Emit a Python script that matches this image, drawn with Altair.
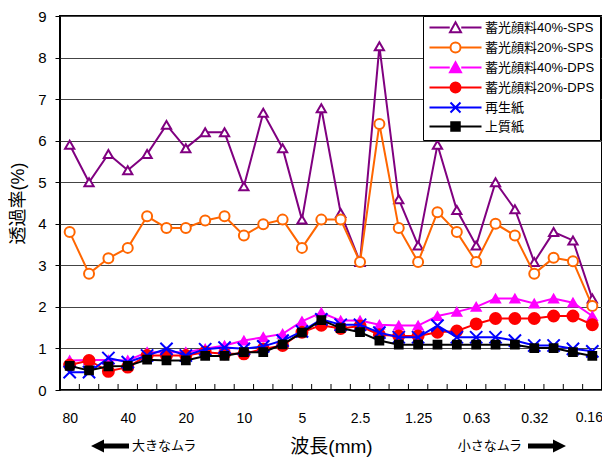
import json
import altair as alt
import pandas as pd

# ---------------- data ----------------
wavelength_labels = ["80", "40", "20", "10", "5", "2.5", "1.25", "0.63", "0.32", "0.16"]
series_names = ["蓄光顔料40%-SPS", "蓄光顔料20%-SPS", "蓄光顔料40%-DPS",
                "蓄光顔料20%-DPS", "再生紙", "上質紙"]

pig40_sps = [5.9, 5.0, 5.68, 5.29, 5.68, 6.38, 5.82, 6.2, 6.2, 4.9, 6.67, 5.82, 4.1, 6.78,
             4.26, 3.08, 8.27, 4.59, 3.48, 5.9, 4.33, 3.48, 5.0, 4.35, 3.08, 3.8, 3.6, 2.2]
pig20_sps = [3.8, 2.8, 3.17, 3.42, 4.18, 3.9, 3.9, 4.08, 4.18, 3.72, 3.99, 4.1, 3.42, 4.1,
             4.1, 3.08, 6.4, 3.9, 3.08, 4.28, 3.8, 3.08, 4.0, 3.72, 2.8, 3.18, 3.1, 2.02]
pig40_dps = [0.71, 0.72, 0.72, 0.71, 0.91, 0.91, 0.91, 0.99, 1.07, 1.19, 1.27, 1.35, 1.65, 1.86,
             1.67, 1.67, 1.57, 1.55, 1.55, 1.78, 1.88, 2.0, 2.2, 2.2, 2.08, 2.2, 2.1, 1.78]
pig20_dps = [0.6, 0.71, 0.45, 0.55, 0.83, 0.83, 0.83, 0.91, 0.87, 0.87, 0.99, 1.07, 1.39, 1.56,
             1.48, 1.54, 1.33, 1.3, 1.3, 1.39, 1.42, 1.59, 1.72, 1.72, 1.72, 1.78, 1.78, 1.57]
recycled = [0.43, 0.43, 0.77, 0.67, 0.83, 0.99, 0.83, 0.98, 1.02, 0.99, 1.05, 1.19, 1.41, 1.7,
            1.57, 1.57, 1.38, 1.27, 1.27, 1.55, 1.27, 1.27, 1.27, 1.19, 1.07, 1.07, 0.99, 0.93]
woodfree = [0.58, 0.47, 0.57, 0.58, 0.73, 0.71, 0.71, 0.82, 0.82, 0.91, 0.91, 1.1, 1.38, 1.68,
            1.49, 1.39, 1.19, 1.09, 1.09, 1.09, 1.09, 1.09, 1.09, 1.09, 1.01, 1.01, 0.91, 0.82]

all_values = [pig40_sps, pig20_sps, pig40_dps, pig20_dps, recycled, woodfree]

x_title = "波長(mm)"
y_title = "透過率(%)"
note_left = "大きなムラ"
note_right = "小さなムラ"

# ---------------- styles ----------------
FONT = "Liberation Sans, Noto Sans CJK JP"
W, H = 542, 374
colors = ["#800080", "#FF6600", "#FF00FF", "#FF0000", "#0000FF", "#000000"]
fills = ["white", "white", "#FF00FF", "#FF0000", "#0000FF", "#000000"]
X_PATH = "M-1,-1L1,1M-1,1L1,-1"
shapes = ["triangle-up", "circle", "triangle-up", "circle", X_PATH, "square"]
sizes = [85, 100, 80, 120, 150, 60]


def legend_path(kind):
    c = 4.2
    line = f"M-1,0H{c-1.15}M{c+1.15},0H9.4"
    if kind == "tri":
        m = f"M{c},-1.05L{c+1.1},0.95L{c-1.1},0.95Z"
    elif kind == "circ":
        m = f"M{c+1},0A1,1,0,1,1,{c-1},0A1,1,0,1,1,{c+1},0Z"
    elif kind == "x":
        m = f"M{c-1},-1L{c+1},1M{c-1},1L{c+1},-1"
        line = "M-1,0H9.4"
    else:
        m = f"M{c-0.85},-0.85H{c+0.85}V0.85H{c-0.85}Z"
        line = "M-1,0H9.4"
    return line + m


legend_shapes = [legend_path(k) for k in ["tri", "circ", "tri", "circ", "x", "sq"]]

rows = []
for name, vals in zip(series_names, all_values):
    for i, v in enumerate(vals):
        rows.append({"i": i, "series": name, "v": v})
df = pd.DataFrame(rows)

n = len(pig40_sps)
boundaries = pd.DataFrame({"b": [k + 0.5 for k in range(n - 1)]})
label_pos = list(range(0, n, 3))
xlab = pd.DataFrame({"i": label_pos, "t": wavelength_labels})

x_scale = alt.Scale(domain=[-0.5, n - 0.5], nice=False, zero=False)
label_expr = f"{json.dumps(wavelength_labels)}[round(datum.value / 3)]"

x_enc = alt.X(
    "i:Q", scale=x_scale,
    axis=alt.Axis(values=label_pos[:-1], labelExpr=label_expr, ticks=False,
                  domain=False, grid=False, title=x_title, labelFontSize=14,
                  labelPadding=21, titleFontSize=19, titlePadding=12,
                  labelColor="black", titleColor="black", titleFontWeight="normal",
                  labelFlush=False),
)
y_enc = alt.Y(
    "v:Q",
    scale=alt.Scale(domain=[0, 9], nice=False, zero=True),
    axis=alt.Axis(values=list(range(10)), title=y_title, labelFontSize=15,
                  labelPadding=9, tickSize=5, tickColor="black", domain=False,
                  grid=True, gridColor="#444", gridWidth=1.2, titleFontSize=18,
                  titlePadding=10, labelColor="black", titleColor="black",
                  titleFontWeight="normal"),
)

layers = []
# x ticks at category boundaries (pointing inward)
layers.append(
    alt.Chart(boundaries).mark_rule(color="black", strokeWidth=1).encode(
        x=alt.X("b:Q", scale=x_scale), y=alt.value(H - 6), y2=alt.value(H))
)

for k, name in enumerate(series_names):
    base = alt.Chart(df).transform_filter(alt.datum.series == name)
    layers.append(base.mark_line(color=colors[k], strokeWidth=2).encode(x=x_enc, y=y_enc))
    layers.append(base.mark_point(shape=shapes[k], size=sizes[k], filled=True, fill=fills[k],
                                  stroke=colors[k], strokeWidth=2, opacity=1)
                  .encode(x=x_enc, y=y_enc))

# last x label (kept inside the page edge)
layers.append(alt.Chart(xlab).transform_filter(alt.datum.i == label_pos[-1])
              .mark_text(align="center", baseline="top", fontSize=14, font=FONT,
                         color="black", dx=-3)
              .encode(x=alt.X("i:Q", scale=x_scale), y=alt.value(H + 21), text="t:N"))

# legend layer (no marks drawn, legend from explicit domains)
legend_layer = alt.Chart(df).transform_filter("false").mark_point(filled=True, strokeWidth=2).encode(
    x=x_enc, y=y_enc,
    shape=alt.Shape("series:N", scale=alt.Scale(domain=series_names, range=legend_shapes),
                    legend=alt.Legend(title=None)),
    stroke=alt.Stroke("series:N", scale=alt.Scale(domain=series_names, range=colors),
                      legend=alt.Legend(title=None)),
    fill=alt.Fill("series:N", scale=alt.Scale(domain=series_names, range=fills),
                  legend=alt.Legend(title=None)),
)
layers.append(legend_layer)

# annotations below the axis
ann = pd.DataFrame({"t": [note_left, note_right]})
layers.append(alt.Chart(ann).transform_filter(alt.datum.t == note_left)
              .mark_text(align="left", baseline="middle", fontSize=13, font=FONT, color="black")
              .encode(text="t:N", x=alt.value(72), y=alt.value(H + 56)))
layers.append(alt.Chart(ann).transform_filter(alt.datum.t == note_right)
              .mark_text(align="right", baseline="middle", fontSize=13, font=FONT, color="black")
              .encode(text="t:N", x=alt.value(462), y=alt.value(H + 56)))
ARROW_L = "M-19,0L-6,-6.5L-6,-2.5L19,-2.5L19,2.5L-6,2.5L-6,6.5Z"
ARROW_R = "M19,0L6,-6.5L6,-2.5L-19,-2.5L-19,2.5L6,2.5L6,6.5Z"
layers.append(alt.Chart(ann).transform_filter(alt.datum.t == note_left)
              .mark_point(shape=ARROW_L, size=4, filled=True, color="black", opacity=1)
              .encode(x=alt.value(50), y=alt.value(H + 56)))
layers.append(alt.Chart(ann).transform_filter(alt.datum.t == note_right)
              .mark_point(shape=ARROW_R, size=4, filled=True, color="black", opacity=1)
              .encode(x=alt.value(487), y=alt.value(H + 56)))

chart = alt.layer(*layers).properties(
    width=W, height=H,
    autosize=alt.AutoSizeParams(type="none"),
    padding={"left": 52, "top": 8, "right": 0, "bottom": 68},
).configure(font=FONT).configure_view(
    stroke="black", strokeWidth=2
).configure_legend(
    orient="none", legendX=363, legendY=0,
    fillColor="white", strokeColor="black", padding=5,
    labelFontSize=13, labelFont=FONT, labelColor="black", labelOffset=44,
    symbolSize=100, symbolStrokeWidth=2, rowPadding=1, symbolOpacity=1,
    labelLimit=300,
)

chart.save("out.html", embed_options={"renderer": "svg", "actions": False})
